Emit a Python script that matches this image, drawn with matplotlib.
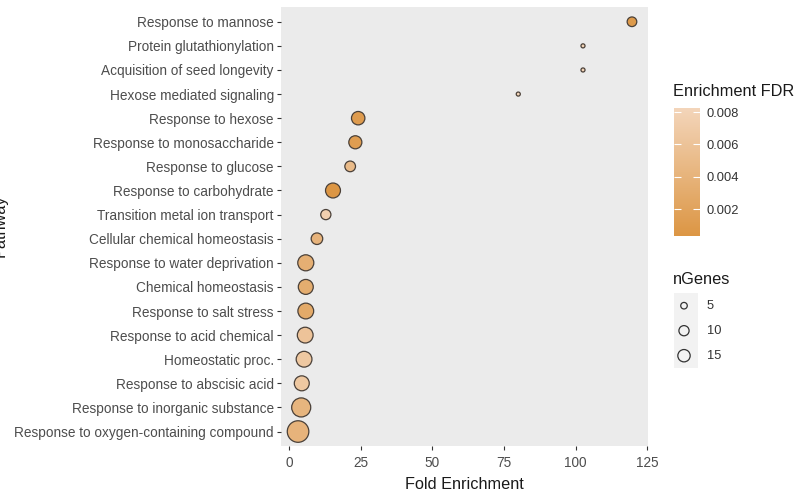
import numpy as np
import matplotlib
matplotlib.use("Agg")
import matplotlib.pyplot as plt
from matplotlib.colors import LinearSegmentedColormap, Normalize
from matplotlib.cm import ScalarMappable

plt.rcParams['font.family'] = ['Liberation Sans', 'DejaVu Sans']

pathways = [
    "Response to mannose",
    "Protein glutathionylation",
    "Acquisition of seed longevity",
    "Hexose mediated signaling",
    "Response to hexose",
    "Response to monosaccharide",
    "Response to glucose",
    "Response to carbohydrate",
    "Transition metal ion transport",
    "Cellular chemical homeostasis",
    "Response to water deprivation",
    "Chemical homeostasis",
    "Response to salt stress",
    "Response to acid chemical",
    "Homeostatic proc.",
    "Response to abscisic acid",
    "Response to inorganic substance",
    "Response to oxygen-containing compound",
]
fold_enrichment = [119.7, 102.6, 102.6, 80.0, 24.1, 23.1, 21.3, 15.3, 12.8, 9.7,
                   5.8, 5.8, 5.8, 5.6, 5.2, 4.4, 4.2, 3.1]
n_genes = [9, 4, 4, 4, 18, 17, 11, 23, 10, 13,
           27, 23, 26, 26, 26, 23, 40, 53]
fdr = [0.0008, 0.0080, 0.0080, 0.0082, 0.0010, 0.0012, 0.0050, 0.00033, 0.0075, 0.0040,
       0.0035, 0.0032, 0.0028, 0.0060, 0.0066, 0.0066, 0.0042, 0.0040]
fdr_ticks = [0.002, 0.004, 0.006, 0.008]
size_breaks = [5, 10, 15]
x_ticks = [0, 25, 50, 75, 100, 125]

W, H = 809, 493
fig = plt.figure(figsize=(W / 100, H / 100), dpi=100)

def rect(x0, y0, x1, y1):
    return [x0 / W, 1 - y1 / H, (x1 - x0) / W, (y1 - y0) / H]

EDGE_PX = 1.25
def marker_area(n):
    n = np.asarray(n, dtype=float)
    d_px = 5.3 + 2.5 * np.sqrt(np.maximum(n - 4, 0))
    return ((d_px - EDGE_PX) * 0.72) ** 2

cmap = LinearSegmentedColormap.from_list("fdr", ["#DC9644", "#F3D5BA"])
norm = Normalize(vmin=0.00033, vmax=0.00825)

ax = fig.add_axes(rect(281.3, 7.3, 648, 446))
ax.set_facecolor("#EBEBEB")
ypos = np.arange(len(pathways))[::-1]
ax.scatter(fold_enrichment, ypos, s=marker_area(n_genes), c=fdr, cmap=cmap, norm=norm,
           edgecolors="#4a4038", linewidths=EDGE_PX * 0.72, zorder=3)
ax.set_xlim(-2.75, 125.3)
ax.set_ylim(-0.6, len(pathways) - 0.4)
ax.set_yticks(ypos)
ax.set_yticklabels(pathways)
ax.set_xticks(x_ticks)
for s in ax.spines.values():
    s.set_visible(False)
ax.tick_params(axis="both", colors="#333333", length=2.9, width=0.8, labelsize=9.8,
               labelcolor="#4D4D4D", pad=2.5)
ax.tick_params(axis="x", pad=4.5)
ax.set_xlabel("Fold Enrichment", fontsize=11.7, color="#1a1a1a", labelpad=4.5)

fig.text(4.5 / W, 1 - 226 / H, "Pathway", rotation=90, rotation_mode="anchor",
         ha="center", va="baseline", fontsize=11.7, color="#1a1a1a")

# colour bar
cax = fig.add_axes(rect(674, 108, 700, 236))
cb = fig.colorbar(ScalarMappable(norm=norm, cmap=cmap), cax=cax)
cb.outline.set_visible(False)
cb.set_ticks(fdr_ticks)
cb.set_ticklabels([f"{t:.3f}" for t in fdr_ticks])
cax.tick_params(axis="y", direction="in", colors="white", length=5, width=0.8,
                left=True, right=True, labelleft=False, labelright=True,
                labelsize=9.3, labelcolor="#333333", pad=5)
fig.text(673 / W, 1 - 92 / H, "Enrichment FDR", ha="left", va="center",
         fontsize=11.8, color="#1a1a1a")

# size legend
lax = fig.add_axes(rect(674, 293, 698, 368))
lax.set_facecolor("#F2F2F2")
lax.set_xlim(674, 698)
lax.set_ylim(368, 293)
key_y = [305.7, 330.7, 355.7]
lax.scatter([684] * len(size_breaks), key_y, s=marker_area(size_breaks), facecolors="none",
            edgecolors="#333333", linewidths=EDGE_PX * 0.72)
lax.set_xticks([])
lax.set_yticks([])
for s in lax.spines.values():
    s.set_visible(False)
for b, y in zip(size_breaks, key_y):
    fig.text(706.5 / W, 1 - y / H, str(b), ha="left", va="center", fontsize=9.3, color="#333333")
fig.text(673 / W, 1 - 280 / H, "nGenes", ha="left", va="center", fontsize=11.8, color="#1a1a1a")

fig.savefig("out.png", dpi=100)
